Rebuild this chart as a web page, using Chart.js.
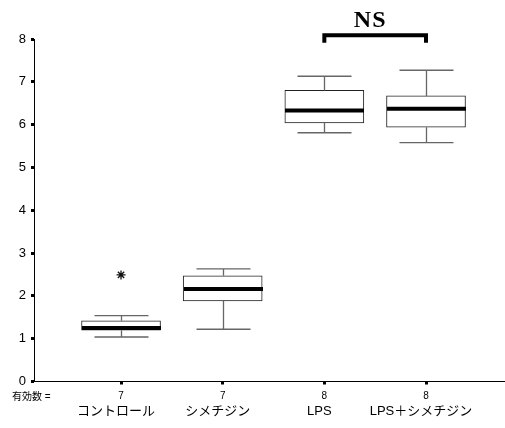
<!DOCTYPE html>
<html>
<head>
<meta charset="utf-8">
<script src="https://cdn.jsdelivr.net/npm/chart.js@4/dist/chart.umd.min.js"></script>
<style>
  html, body { margin: 0; background: #fff; overflow: hidden; }
  #wrap { width: 505px; height: 428px; }
  canvas { display: block; }
</style>
</head>
<body>
<div id="wrap"><canvas id="boxChart" width="505" height="428"></canvas></div>
<script>
// Box plot data per group
const categories = ['コントロール', 'シメチジン', 'LPS', 'LPS＋シメチジン'];
const validN = [7, 7, 8, 8];
const q1 = [1.20, 1.88, 6.04, 5.94];
const q3 = [1.42, 2.47, 6.80, 6.67];
const medians = [1.25, 2.16, 6.33, 6.37];
const whiskerLow = [1.04, 1.22, 5.81, 5.58];
const whiskerHigh = [1.54, 2.63, 7.13, 7.27];
const outlierGroups = [1];
const outlierValues = [2.49];
const yTicks = [0, 1, 2, 3, 4, 5, 6, 7, 8];

const FONT = "'Liberation Sans', 'Noto Sans CJK JP', sans-serif";
const BOX_W = 79;
const CAP_W = 54;
const X_MIN = 0.144;
const X_MAX = 4.72;

const boxExtras = {
  id: 'boxExtras',
  afterDatasetsDraw(chart) {
    const { ctx, scales: { x, y } } = chart;
    ctx.save();
    categories.forEach((c, i) => {
      const cx = Math.round(x.getPixelForValue(i + 1)) + 0.5;
      const yHi = y.getPixelForValue(whiskerHigh[i]);
      const yLo = y.getPixelForValue(whiskerLow[i]);
      const yQ3 = y.getPixelForValue(q3[i]);
      const yQ1 = y.getPixelForValue(q1[i]);
      // whiskers
      ctx.strokeStyle = '#666';
      ctx.lineWidth = 1.3;
      ctx.beginPath();
      ctx.moveTo(cx, yQ3); ctx.lineTo(cx, yHi);
      ctx.moveTo(cx, yQ1); ctx.lineTo(cx, yLo);
      ctx.moveTo(cx - CAP_W / 2, yHi); ctx.lineTo(cx + CAP_W / 2, yHi);
      ctx.moveTo(cx - CAP_W / 2, yLo); ctx.lineTo(cx + CAP_W / 2, yLo);
      ctx.stroke();
      // median
      const ym = y.getPixelForValue(medians[i]);
      ctx.strokeStyle = '#000';
      ctx.lineWidth = 4;
      ctx.beginPath();
      ctx.moveTo(cx - BOX_W / 2, ym); ctx.lineTo(cx + BOX_W / 2, ym);
      ctx.stroke();
    });
    ctx.restore();
  },
  afterDraw(chart) {
    const { ctx, chartArea, scales: { x, y } } = chart;
    ctx.save();
    // run the baseline out to the canvas edge (same pixel alignment as the axis border)
    const baseY = Math.round(chartArea.bottom - 0.5) + 0.5;
    ctx.strokeStyle = '#000';
    ctx.lineWidth = 1;
    ctx.beginPath();
    ctx.moveTo(chartArea.right - 2, baseY);
    ctx.lineTo(chart.width, baseY);
    ctx.stroke();
    // NS bracket between the two LPS groups
    const bx1 = x.getPixelForValue(3), bx2 = x.getPixelForValue(4);
    const by = y.getPixelForValue(8.09), byLeg = y.getPixelForValue(7.91);
    ctx.lineWidth = 4;
    ctx.lineJoin = 'miter';
    ctx.beginPath();
    ctx.moveTo(bx1, byLeg); ctx.lineTo(bx1, by); ctx.lineTo(bx2, by); ctx.lineTo(bx2, byLeg);
    ctx.stroke();
    ctx.fillStyle = '#000';
    ctx.font = "bold 24px 'Liberation Serif', 'DejaVu Serif', serif";
    ctx.letterSpacing = '1px';
    ctx.textAlign = 'center';
    ctx.textBaseline = 'middle';
    ctx.fillText('NS', (bx1 + bx2) / 2 - 5, y.getPixelForValue(8.42));
    ctx.letterSpacing = '0px';
    // row caption for the n counts
    ctx.font = '10px ' + FONT;
    ctx.textAlign = 'left';
    ctx.fillText('有効数 =', 12, 397);
    ctx.restore();
  }
};

new Chart(document.getElementById('boxChart'), {
  type: 'bar',
  data: {
    datasets: [{
      data: categories.map((c, i) => ({ x: i + 1, y: [q1[i], q3[i]] })),
      backgroundColor: '#fff',
      borderColor: '#222',
      borderWidth: 1,
      borderSkipped: false,
      barThickness: BOX_W,
      xAxisID: 'x'
    }, {
      type: 'scatter',
      data: outlierGroups.map((g, i) => ({ x: g, y: outlierValues[i] })),
      pointStyle: 'star',
      radius: 4.5,
      borderColor: '#111',
      borderWidth: 1.3,
      xAxisID: 'x'
    }]
  },
  options: {
    responsive: false,
    animation: false,
    layout: { padding: { top: 39, left: 0, right: 0, bottom: 0 } },
    plugins: { legend: { display: false }, tooltip: { enabled: false } },
    scales: {
      x: {
        type: 'linear',
        position: 'bottom',
        weight: 0,
        offset: false,
        min: X_MIN,
        max: X_MAX,
        afterBuildTicks: (s) => { s.ticks = validN.map((n, i) => ({ value: i + 1 })); },
        afterFit: (s) => { s.height = 20; },
        ticks: {
          callback: (v) => validN[v - 1],
          color: '#000',
          font: { family: FONT, size: 10 },
          padding: 6,
          maxRotation: 0
        },
        grid: { offset: false, drawOnChartArea: false, tickLength: 3, tickWidth: 3, tickColor: '#000' },
        border: { color: '#000', width: 1 }
      },
      x2: {
        type: 'linear',
        position: 'bottom',
        weight: 1,
        offset: false,
        min: X_MIN,
        max: X_MAX,
        afterBuildTicks: (s) => { s.ticks = categories.map((c, i) => ({ value: i + 1 })); },
        afterFit: (s) => { s.height = 428 - 381.5 - 20; },
        ticks: {
          callback: (v) => categories[v - 1],
          color: '#000',
          font: { family: FONT, size: 13 },
          padding: -6,
          labelOffset: -5,
          maxRotation: 0,
          autoSkip: false
        },
        grid: { display: false, offset: false },
        border: { display: false }
      },
      y: {
        min: 0,
        max: 8,
        afterBuildTicks: (s) => { s.ticks = yTicks.map(v => ({ value: v })); },
        afterFit: (s) => { s.width = 34; },
        ticks: { color: '#000', font: { family: FONT, size: 13 }, padding: 5 },
        grid: { drawOnChartArea: false, tickLength: 3, tickWidth: 3, tickColor: '#000' },
        border: { color: '#000', width: 1 }
      }
    }
  },
  plugins: [boxExtras]
});
</script>
</body>
</html>
